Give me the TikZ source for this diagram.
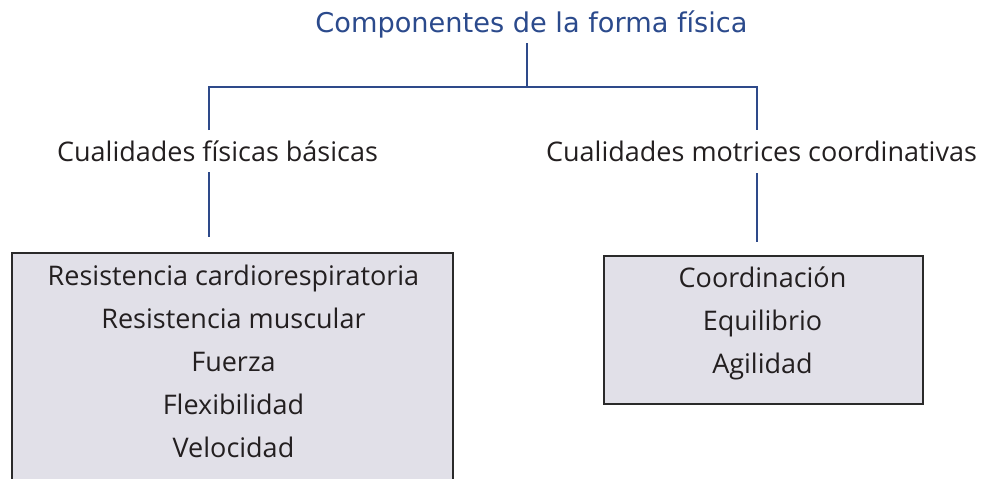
\documentclass[tikz,border=0pt]{standalone}
\usepackage{fontspec}
\setmainfont{Open Sans}[Ligatures=NoCommon]
\newfontfamily\titlefont{DejaVu Sans}
\definecolor{lineblue}{HTML}{2E4A8A}
\definecolor{titleblue}{HTML}{2B4A8C}
\definecolor{txt}{HTML}{231F20}
\definecolor{boxfill}{HTML}{E1E0E8}
\definecolor{boxline}{HTML}{2A2A2A}
\tikzset{
  conn/.style={draw=lineblue, line width=2.4pt},
  boxnode/.style={draw=boxline, fill=boxfill, line width=2pt, rectangle, inner sep=0pt, anchor=north west},
  lbl/.style={anchor=base, inner sep=0pt, text=txt, font=\fontsize{27}{30}\selectfont},
  ttl/.style={anchor=base, inner sep=0pt, text=titleblue, font=\titlefont\fontsize{27.2}{30}\selectfont},
}
\begin{document}
\begin{tikzpicture}[x=1pt,y=-1pt]
\useasboundingbox (0,0) rectangle (986,479);
% title
\node[ttl] (t) at (531.5,32) {Componentes de la forma física};
% level labels
\node[lbl] (cb) at (217.5,161) {Cualidades físicas básicas};
\node[lbl] (cm) at (761.5,161) {Cualidades motrices coordinativas};
% boxes
\node[boxnode, minimum width=441pt, minimum height=240pt] (bl) at (11,252) {};
\node[boxnode, minimum width=319pt, minimum height=148pt] (br) at (603,255) {};
% box texts
\node[lbl] (l1) at (233.5,285) {Resistencia cardiorespiratoria};
\node[lbl] (l2) at (233.5,328) {Resistencia muscular};
\node[lbl] (l3) at (233.5,371) {Fuerza};
\node[lbl] (l4) at (233.5,414) {Flexibilidad};
\node[lbl] (l5) at (233.5,457) {Velocidad};
\node[lbl] (r1) at (762.5,287) {Coordinación};
\node[lbl] (r2) at (762.5,330) {Equilibrio};
\node[lbl] (r3) at (762.5,373) {Agilidad};
% connector points
\coordinate (tb) at (527,43);
\coordinate (j) at (527,87);
\coordinate (jl) at (209,87);
\coordinate (jr) at (757,87);
\coordinate (al) at (209,130);
\coordinate (ar) at (757,130);
\coordinate (bl1) at (209,172);
\coordinate (bl2) at (209,237);
\coordinate (br1) at (757,173);
\coordinate (br2) at (757,242);
% connectors
\draw[conn] (tb) -- (j);
\draw[conn, line join=miter] (al) -- (jl) -- (jr) -- (ar);
\draw[conn] (bl1) -- (bl2);
\draw[conn] (br1) -- (br2);
\end{tikzpicture}
\end{document}
